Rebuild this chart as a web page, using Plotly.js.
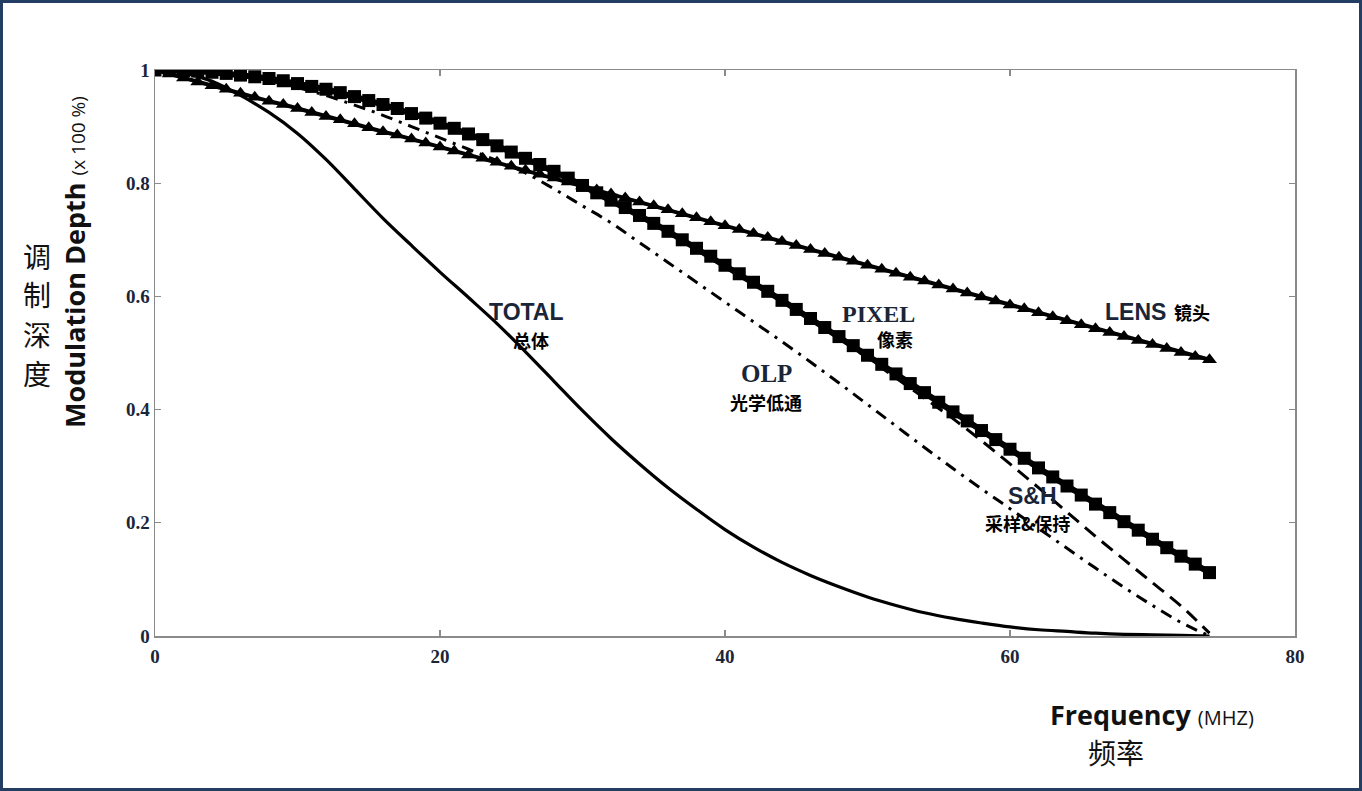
<!DOCTYPE html>
<html>
<head>
<meta charset="utf-8">
<script src="https://cdn.plot.ly/plotly-3.0.1.min.js"></script>
<style>
  html, body { margin: 0; padding: 0; background: #fff; }
  #frame { width: 1362px; height: 791px; box-sizing: border-box; border: 3px solid #243d62; overflow: hidden; }
  #chart { width: 1356px; height: 785px; }
</style>
</head>
<body>
<div id="frame"><div id="chart"></div></div>
<script>
// ---- data ----
// dense frequency grid for the marker series (MHz)
const freqDense = [0,1,2,3,4,5,6,7,8,9,10,11,12,13,14,15,16,17,18,19,20,21,22,23,24,25,26,27,28,29,30,31,32,33,34,35,36,37,38,39,40,41,42,43,44,45,46,47,48,49,50,51,52,53,54,55,56,57,58,59,60,61,62,63,64,65,66,67,68,69,70,71,72,73,74];
const pixel = [1.000,1.000,0.999,0.998,0.996,0.994,0.991,0.988,0.985,0.981,0.976,0.971,0.966,0.960,0.953,0.946,0.939,0.932,0.923,0.915,0.906,0.897,0.887,0.877,0.866,0.855,0.844,0.833,0.821,0.809,0.796,0.783,0.770,0.757,0.743,0.729,0.715,0.700,0.685,0.671,0.655,0.640,0.625,0.609,0.593,0.577,0.561,0.545,0.529,0.513,0.496,0.480,0.463,0.446,0.430,0.413,0.396,0.380,0.363,0.347,0.330,0.314,0.297,0.281,0.265,0.249,0.233,0.218,0.202,0.187,0.171,0.156,0.141,0.127,0.112];
const lens = [1.000,0.993,0.986,0.979,0.972,0.966,0.959,0.952,0.945,0.939,0.932,0.925,0.918,0.912,0.905,0.898,0.891,0.885,0.878,0.871,0.864,0.857,0.850,0.844,0.837,0.830,0.823,0.816,0.809,0.802,0.795,0.788,0.781,0.774,0.767,0.760,0.753,0.746,0.739,0.732,0.725,0.718,0.711,0.704,0.697,0.690,0.683,0.676,0.669,0.662,0.655,0.648,0.641,0.634,0.627,0.620,0.613,0.606,0.599,0.592,0.585,0.578,0.571,0.564,0.557,0.550,0.543,0.536,0.529,0.522,0.515,0.508,0.501,0.494,0.488];
// coarse frequency grid for the line series (MHz)
const freqLine = [0,2,4,6,8,10,12,14,16,18,20,22,24,26,28,30,32,34,36,38,40,42,44,46,48,50,52,54,56,58,60,62,64,66,68,70,72,74];
const olp   = [1.000,0.999,0.996,0.990,0.981,0.969,0.955,0.938,0.920,0.900,0.880,0.860,0.840,0.818,0.790,0.760,0.730,0.695,0.660,0.625,0.590,0.555,0.520,0.484,0.447,0.409,0.371,0.333,0.296,0.260,0.225,0.190,0.155,0.120,0.086,0.054,0.024,0.000];
const sh    = [1.000,0.999,0.996,0.991,0.985,0.976,0.965,0.952,0.938,0.922,0.905,0.886,0.865,0.843,0.820,0.795,0.769,0.742,0.714,0.684,0.654,0.623,0.591,0.559,0.526,0.491,0.456,0.420,0.384,0.345,0.304,0.262,0.219,0.176,0.135,0.094,0.053,0.005];
const total = [1.000,0.995,0.980,0.955,0.925,0.888,0.842,0.790,0.738,0.690,0.643,0.598,0.552,0.502,0.450,0.398,0.349,0.304,0.262,0.224,0.188,0.157,0.130,0.107,0.087,0.069,0.054,0.041,0.031,0.023,0.016,0.011,0.008,0.005,0.003,0.002,0.001,0.000];
const xTicks = [0,20,40,60,80];
const yTicks = [0,0.2,0.4,0.6,0.8,1];
const yTitleZh = ['调', '制', '深', '度'];

// ---- traces ----
const traces = [
  { x: freqLine, y: total, mode: 'lines', line: { color: '#000', width: 3.2, shape: 'spline', smoothing: 1 }, name: 'TOTAL' },
  { x: freqLine, y: olp, mode: 'lines', line: { color: '#000', width: 3, dash: '12px,7px,3px,7px', shape: 'spline', smoothing: 1 }, name: 'OLP' },
  { x: freqLine, y: sh, mode: 'lines', line: { color: '#000', width: 3, dash: '14px,8px', shape: 'spline', smoothing: 1 }, name: 'S&H' },
  { x: freqDense, y: lens, mode: 'lines+markers', line: { color: '#000', width: 4 },
    marker: { symbol: 'triangle-up', size: 13, color: '#000' }, name: 'LENS' },
  { x: freqDense, y: pixel, mode: 'lines+markers', line: { color: '#000', width: 6 },
    marker: { symbol: 'square', size: 13, color: '#000' }, name: 'PIXEL' }
];

const sans = 'Liberation Sans, Arial, sans-serif';
const serif = 'Liberation Serif, Times New Roman, serif';
const cjk = 'Noto Sans CJK SC, sans-serif';
const navy = '#1b2538';

function ann(x, y, text, font, extra) {
  return Object.assign({ x: x, y: y, xref: 'x', yref: 'y', text: text, showarrow: false,
    font: font, xanchor: 'center', yanchor: 'middle' }, extra || {});
}

const annotations = [
  ann(26.1, 0.572, '<b>TOTAL</b>', { family: sans, size: 23, color: navy }),
  ann(26.4, 0.523, '<b>总体</b>', { family: cjk, size: 18, color: '#000' }),
  ann(50.8, 0.569, '<b>PIXEL</b>', { family: serif, size: 24, color: navy }),
  ann(51.9, 0.525, '<b>像素</b>', { family: cjk, size: 18, color: '#000' }),
  ann(42.9, 0.463, '<b>OLP</b>', { family: serif, size: 25, color: navy }),
  ann(42.9, 0.414, '<b>光学低通</b>', { family: cjk, size: 18, color: '#000' }),
  ann(68.8, 0.572, '<b>LENS</b>', { family: sans, size: 23, color: navy }),
  ann(72.8, 0.572, '<b>镜头</b>', { family: cjk, size: 18, color: '#000' }),
  ann(61.6, 0.247, '<b>S&amp;H</b>', { family: sans, size: 23, color: navy }),
  ann(61.2, 0.200, '<b>采样&amp;保持</b>', { family: cjk, size: 18, color: '#000' }),
  // axis titles
  { x: -0.0701, y: 0.661, xref: 'paper', yref: 'paper', showarrow: false, textangle: -90,
    text: '<b>Modulation Depth</b> <span style="font-size:19px">(x 100 %)</span>',
    font: { family: 'Open Sans, sans-serif', size: 27, color: '#111' }, xanchor: 'center', yanchor: 'middle' },
  { x: 0.8747, y: -0.1380, xref: 'paper', yref: 'paper', showarrow: false,
    text: '<b>Frequency</b> <span style="font-size:20px">(MHZ)</span>',
    font: { family: 'Open Sans, sans-serif', size: 27, color: '#111' }, xanchor: 'center', yanchor: 'middle' },
  { x: 0.843, y: -0.205, xref: 'paper', yref: 'paper', showarrow: false,
    text: '频率', font: { family: cjk, size: 28, color: '#111' }, xanchor: 'center', yanchor: 'middle' }
];
// vertical Chinese y title, one character per annotation
const zhRows = [0.672, 0.605, 0.534, 0.464];
yTitleZh.forEach(function (ch, i) {
  annotations.push({ x: -0.1034, y: zhRows[i], xref: 'paper', yref: 'paper', showarrow: false,
    text: ch, font: { family: cjk, size: 28, color: '#111' }, xanchor: 'center', yanchor: 'middle' });
});

const axisCommon = {
  showgrid: false, zeroline: false, showline: true, linecolor: '#8a8a8a', linewidth: 1.5,
  mirror: 'ticks', ticks: 'inside', ticklen: 6, tickcolor: '#8a8a8a', tickwidth: 1.2,
  tickfont: { family: serif, size: 19, color: navy, weight: 'bold' }
};

const layout = {
  width: 1356, height: 785,
  margin: { l: 152, r: 64, t: 67, b: 152 },
  paper_bgcolor: '#fff', plot_bgcolor: '#fff',
  showlegend: false,
  xaxis: Object.assign({}, axisCommon, { range: [0, 80], tickvals: xTicks, ticktext: xTicks.map(String), ticklabelstandoff: 3 }),
  yaxis: Object.assign({}, axisCommon, { range: [0, 1], tickvals: yTicks, ticktext: yTicks.map(String) }),
  annotations: annotations
};

Plotly.newPlot('chart', traces, layout, { displayModeBar: false, staticPlot: true });
</script>
</body>
</html>
